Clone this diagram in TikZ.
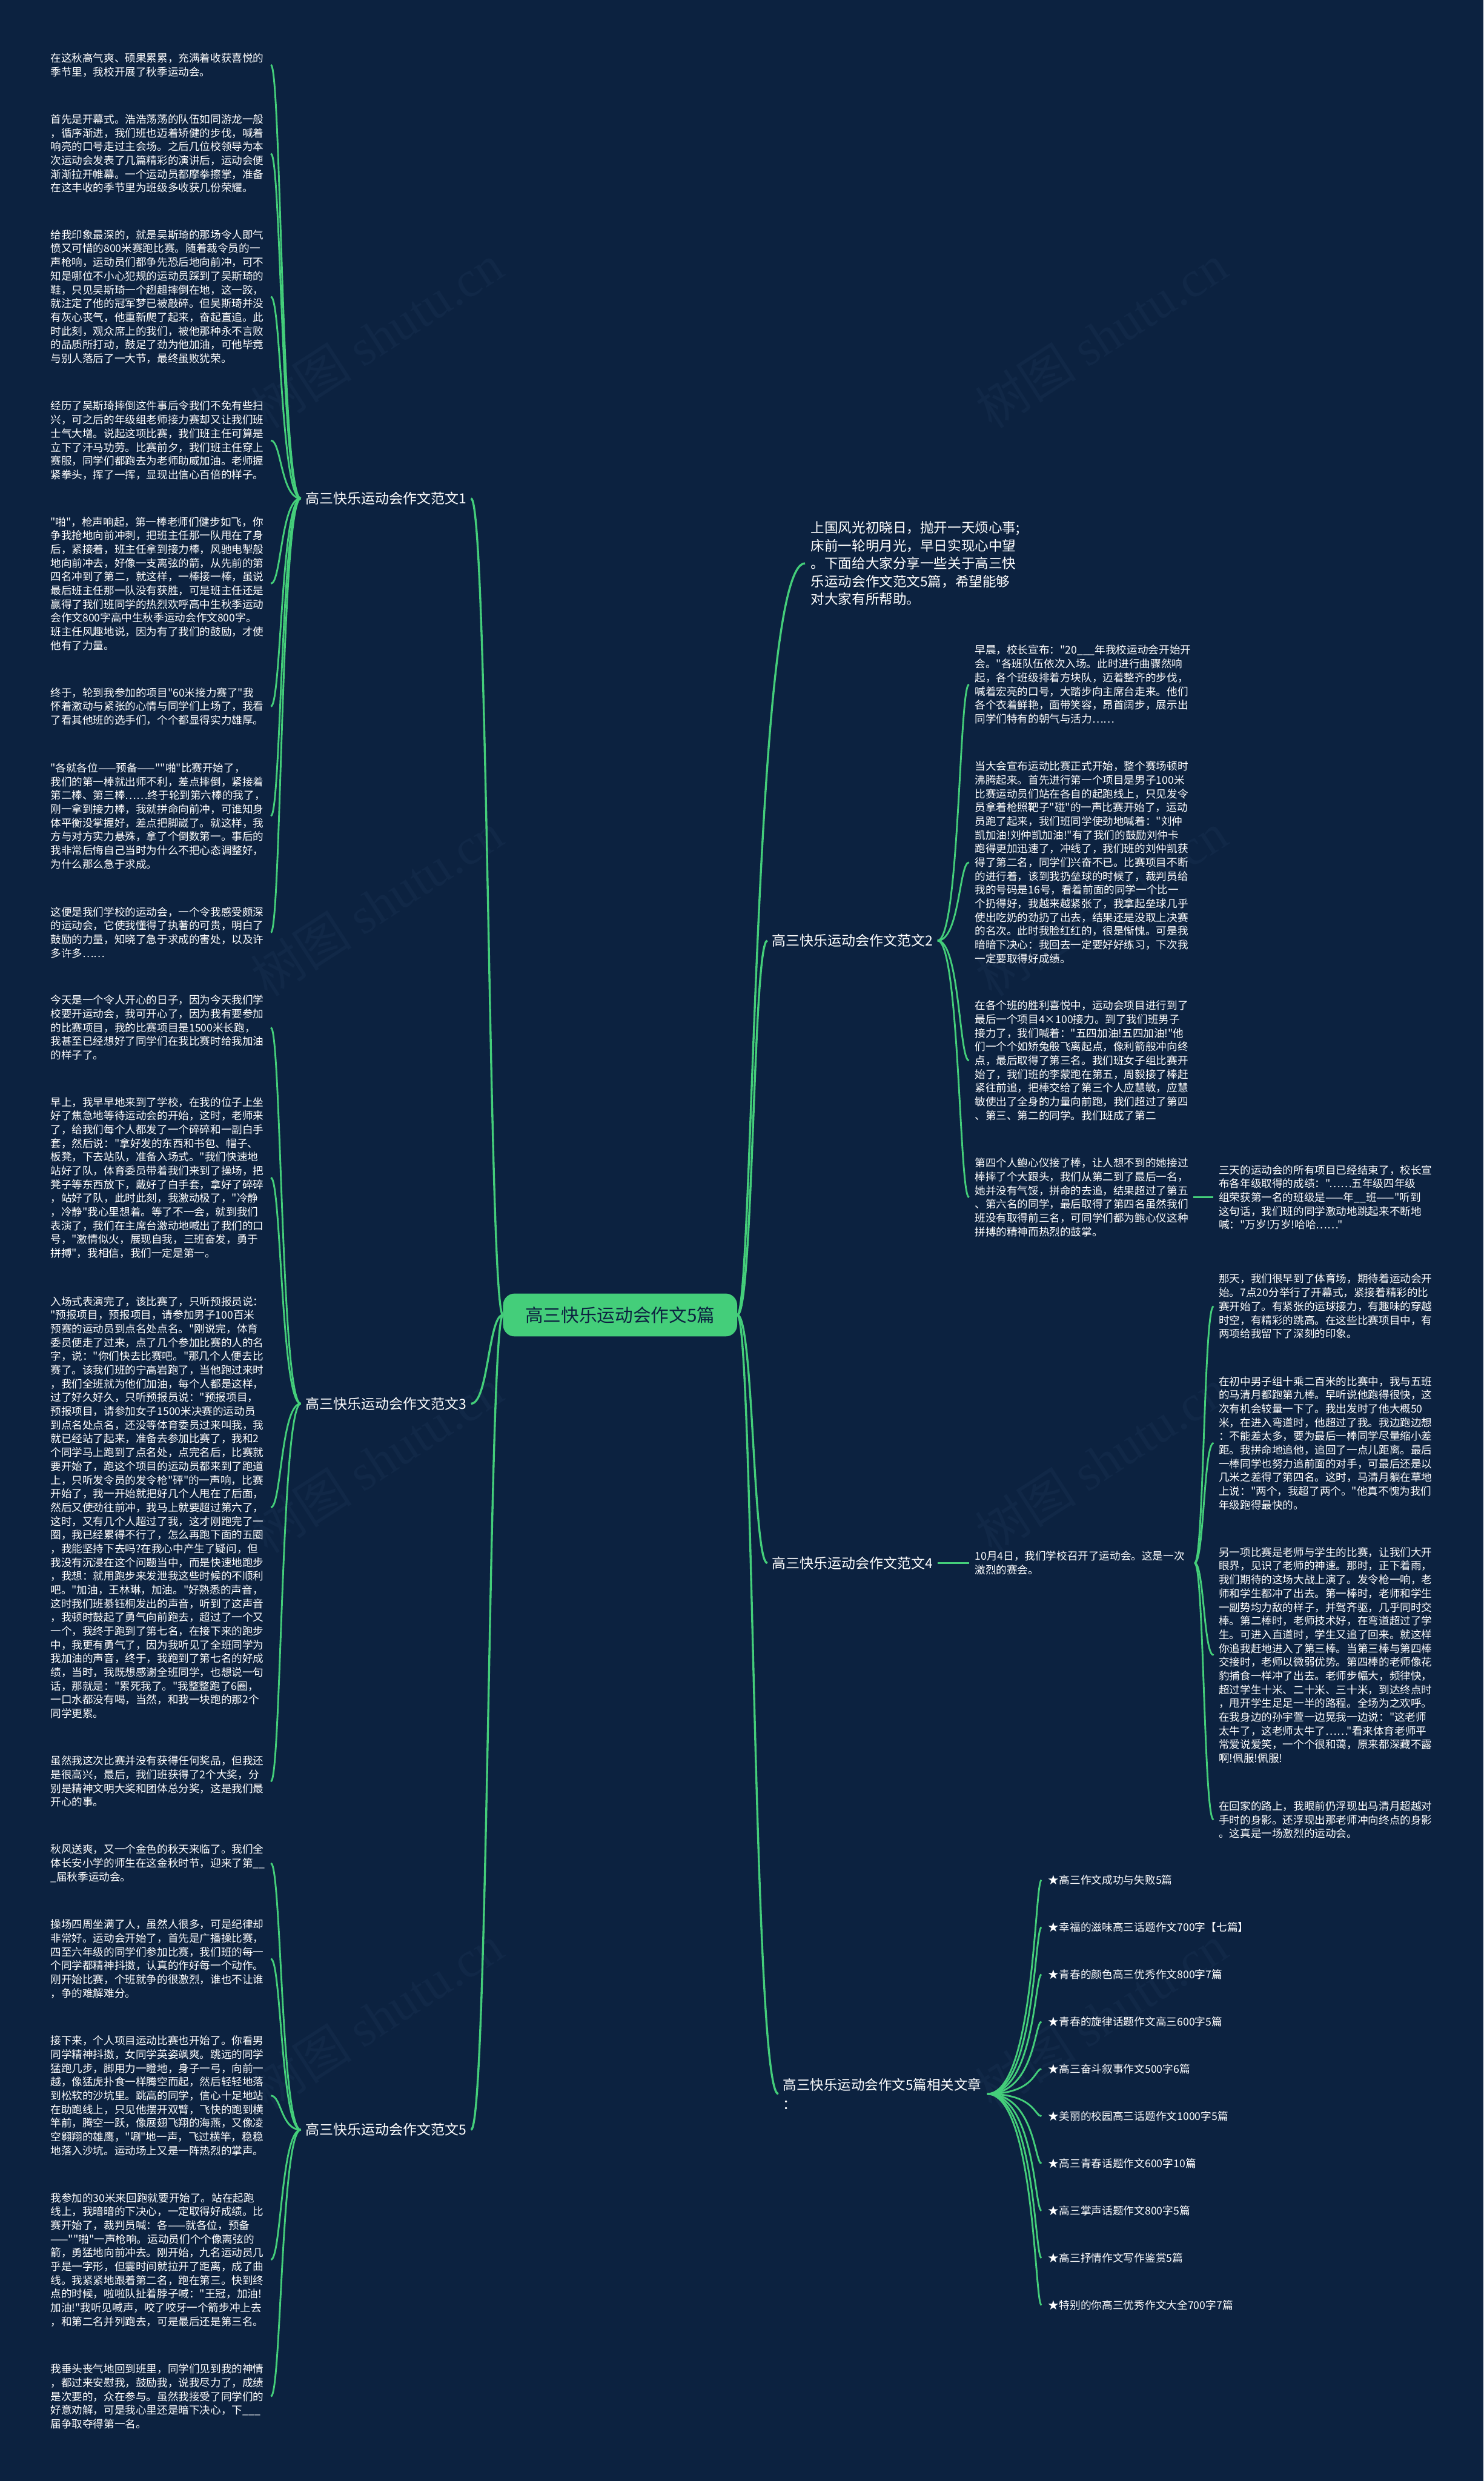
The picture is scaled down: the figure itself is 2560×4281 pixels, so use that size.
\documentclass[tikz,border=0pt]{standalone}
\usepackage{fontspec}
\setmainfont{Noto Sans CJK SC}[Ligatures=TeXOff]
\newfontfamily\wmfont{Liberation Serif}
\definecolor{bg}{RGB}{12,34,64}
\definecolor{lg}{RGB}{68,206,122}
\definecolor{wmc}{RGB}{17,40,71}
\begin{document}
\begin{tikzpicture}[x=1bp,y=-1bp,
  txt/.style={anchor=west,inner sep=0pt,text=white,align=left,text width=372bp,font=\fontsize{18.4bp}{23.7bp}\selectfont},
  sec/.style={anchor=west,inner sep=0pt,text=white,font=\fontsize{24bp}{30bp}\selectfont},
  relsec/.style={anchor=west,inner sep=0pt,text=white,align=left,font=\fontsize{23.5bp}{33bp}\selectfont},
  intro/.style={anchor=west,inner sep=0pt,text=white,align=left,font=\fontsize{23.6bp}{30.8bp}\selectfont},
  relitem/.style={anchor=west,inner sep=0pt,text=white,font=\fontsize{18.5bp}{23bp}\selectfont},
  ctr/.style={rounded corners=20bp,fill=lg,text=bg,minimum width=404bp,minimum height=74bp,inner sep=0pt,font=\fontsize{31bp}{36bp}\selectfont},
  lnk/.style={draw=lg,line width=3bp},
  mainlnk/.style={draw=lg,line width=3.5bp},
  wm/.style={text=wmc,rotate=33,inner sep=0pt,font=\fontsize{88bp}{100bp}\selectfont}
]
\useasboundingbox (0,0) rectangle (2560,4281);
\fill[bg] (0,0) rectangle (2560,4281);

% watermarks
\node[wm] (w1) at (650,580) {树图 {\wmfont shutu.cn}};
\node[wm] (w2) at (1900,580) {树图 {\wmfont shutu.cn}};
\node[wm] (w3) at (650,1560) {树图 {\wmfont shutu.cn}};
\node[wm] (w4) at (1900,1560) {树图 {\wmfont shutu.cn}};
\node[wm] (w5) at (650,2520) {树图 {\wmfont shutu.cn}};
\node[wm] (w6) at (1900,2520) {树图 {\wmfont shutu.cn}};
\node[wm] (w7) at (650,3480) {树图 {\wmfont shutu.cn}};
\node[wm] (w8) at (1900,3480) {树图 {\wmfont shutu.cn}};

% center
\node[ctr] (ctr) at (1070,2269) {高三快乐运动会作文5篇};

% section labels
\node[sec] (s1) at (527,860) {高三快乐运动会作文范文1};
\node[sec] (s3) at (527,2422) {高三快乐运动会作文范文3};
\node[sec] (s5) at (527,3675) {高三快乐运动会作文范文5};
\node[sec] (s2) at (1332,1623) {高三快乐运动会作文范文2};
\node[sec] (s4) at (1332,2697) {高三快乐运动会作文范文4};
\node[relsec] (rel) at (1351,3613) {高三快乐运动会作文5篇相关文章\\：};
\node[intro] (intro) at (1399,972) {上国风光初晓日，抛开一天烦心事;\\床前一轮明月光，早日实现心中望\\。下面给大家分享一些关于高三快\\乐运动会作文范文5篇，希望能够\\对大家有所帮助。};

% section 1 children
\node[txt] (b11) at (87,112) {在这秋高气爽、硕果累累，充满着收获喜悦的\\季节里，我校开展了秋季运动会。};
\node[txt] (b12) at (87,265) {首先是开幕式。浩浩荡荡的队伍如同游龙一般\\，循序渐进，我们班也迈着矫健的步伐，喊着\\响亮的口号走过主会场。之后几位校领导为本\\次运动会发表了几篇精彩的演讲后，运动会便\\渐渐拉开帷幕。一个运动员都摩拳擦掌，准备\\在这丰收的季节里为班级多收获几份荣耀。};
\node[txt] (b13) at (87,512) {给我印象最深的，就是吴斯琦的那场令人即气\\愤又可惜的800米赛跑比赛。随着裁令员的一\\声枪响，运动员们都争先恐后地向前冲，可不\\知是哪位不小心犯规的运动员踩到了吴斯琦的\\鞋，只见吴斯琦一个趔趄摔倒在地，这一跤，\\就注定了他的冠军梦已被敲碎。但吴斯琦并没\\有灰心丧气，他重新爬了起来，奋起直追。此\\时此刻，观众席上的我们，被他那种永不言败\\的品质所打动，鼓足了劲为他加油，可他毕竟\\与别人落后了一大节，最终虽败犹荣。};
\node[txt] (b14) at (87,760) {经历了吴斯琦摔倒这件事后令我们不免有些扫\\兴，可之后的年级组老师接力赛却又让我们班\\士气大增。说起这项比赛，我们班主任可算是\\立下了汗马功劳。比赛前夕，我们班主任穿上\\赛服，同学们都跑去为老师助威加油。老师握\\紧拳头，挥了一挥，显现出信心百倍的样子。};
\node[txt] (b15) at (87,1007) {"啪"，枪声响起，第一棒老师们健步如飞，你\\争我抢地向前冲刺，把班主任那一队甩在了身\\后，紧接着，班主任拿到接力棒，风驰电掣般\\地向前冲去，好像一支离弦的箭，从先前的第\\四名冲到了第二，就这样，一棒接一棒，虽说\\最后班主任那一队没有获胜，可是班主任还是\\赢得了我们班同学的热烈欢呼高中生秋季运动\\会作文800字高中生秋季运动会作文800字。\\班主任风趣地说，因为有了我们的鼓励，才使\\他有了力量。};
\node[txt] (b16) at (87,1219) {终于，轮到我参加的项目"60米接力赛了"我\\怀着激动与紧张的心情与同学们上场了，我看\\了看其他班的选手们，个个都显得实力雄厚。};
\node[txt] (b17) at (87,1408) {"各就各位——预备——""啪"比赛开始了，\\我们的第一棒就出师不利，差点摔倒，紧接着\\第二棒、第三棒……终于轮到第六棒的我了，\\刚一拿到接力棒，我就拼命向前冲，可谁知身\\体平衡没掌握好，差点把脚崴了。就这样，我\\方与对方实力悬殊，拿了个倒数第一。事后的\\我非常后悔自己当时为什么不把心态调整好，\\为什么那么急于求成。};
\node[txt] (b18) at (87,1609) {这便是我们学校的运动会，一个令我感受颇深\\的运动会，它使我懂得了执著的可贵，明白了\\鼓励的力量，知晓了急于求成的害处，以及许\\多许多……};

% section 3 children
\node[txt] (b31) at (87,1773) {今天是一个令人开心的日子，因为今天我们学\\校要开运动会，我可开心了，因为我有要参加\\的比赛项目，我的比赛项目是1500米长跑，\\我甚至已经想好了同学们在我比赛时给我加油\\的样子了。};
\node[txt] (b32) at (87,2032) {早上，我早早地来到了学校，在我的位子上坐\\好了焦急地等待运动会的开始，这时，老师来\\了，给我们每个人都发了一个碎碎和一副白手\\套，然后说："拿好发的东西和书包、帽子、\\板凳，下去站队，准备入场式。"我们快速地\\站好了队，体育委员带着我们来到了操场，把\\凳子等东西放下，戴好了白手套，拿好了碎碎\\，站好了队，此时此刻，我激动极了，"冷静\\，冷静"我心里想着。等了不一会，就到我们\\表演了，我们在主席台激动地喊出了我们的口\\号，"激情似火，展现自我，三班奋发，勇于\\拼搏"，我相信，我们一定是第一。};
\node[txt] (b33) at (87,2601) {入场式表演完了，该比赛了，只听预报员说：\\"预报项目，预报项目，请参加男子100百米\\预赛的运动员到点名处点名。"刚说完，体育\\委员便走了过来，点了几个参加比赛的人的名\\字，说："你们快去比赛吧。"那几个人便去比\\赛了。该我们班的宁高岩跑了，当他跑过来时\\，我们全班就为他们加油，每个人都是这样，\\过了好久好久，只听预报员说："预报项目，\\预报项目，请参加女子1500米决赛的运动员\\到点名处点名，还没等体育委员过来叫我，我\\就已经站了起来，准备去参加比赛了，我和2\\个同学马上跑到了点名处，点完名后，比赛就\\要开始了，跑这个项目的运动员都来到了跑道\\上，只听发令员的发令枪"砰"的一声响，比赛\\开始了，我一开始就把好几个人甩在了后面，\\然后又使劲往前冲，我马上就要超过第六了，\\这时，又有几个人超过了我，这才刚跑完了一\\圈，我已经累得不行了，怎么再跑下面的五圈\\，我能坚持下去吗?在我心中产生了疑问，但\\我没有沉浸在这个问题当中，而是快速地跑步\\，我想：就用跑步来发泄我这些时候的不顺利\\吧。"加油，王林琳，加油。"好熟悉的声音，\\这时我们班綦钰桐发出的声音，听到了这声音\\，我顿时鼓起了勇气向前跑去，超过了一个又\\一个，我终于跑到了第七名，在接下来的跑步\\中，我更有勇气了，因为我听见了全班同学为\\我加油的声音，终于，我跑到了第七名的好成\\绩，当时，我既想感谢全班同学，也想说一句\\话，那就是："累死我了。"我整整跑了6圈，\\一口水都没有喝，当然，和我一块跑的那2个\\同学更累。};
\node[txt] (b34) at (87,3074) {虽然我这次比赛并没有获得任何奖品，但我还\\是很高兴，最后，我们班获得了2个大奖，分\\别是精神文明大奖和团体总分奖，这是我们最\\开心的事。};

% section 5 children
\node[txt] (b51) at (87,3215) {秋风送爽，又一个金色的秋天来临了。我们全\\体长安小学的师生在这金秋时节，迎来了第\_\_\\\_届秋季运动会。};
\node[txt] (b52) at (87,3380) {操场四周坐满了人，虽然人很多，可是纪律却\\非常好。运动会开始了，首先是广播操比赛，\\四至六年级的同学们参加比赛，我们班的每一\\个同学都精神抖擞，认真的作好每一个动作。\\刚开始比赛，个班就争的很激烈，谁也不让谁\\，争的难解难分。};
\node[txt] (b53) at (87,3616) {接下来，个人项目运动比赛也开始了。你看男\\同学精神抖擞，女同学英姿飒爽。跳远的同学\\猛跑几步，脚用力一瞪地，身子一弓，向前一\\越，像猛虎扑食一样腾空而起，然后轻轻地落\\到松软的沙坑里。跳高的同学，信心十足地站\\在助跑线上，只见他摆开双臂，飞快的跑到横\\竿前，腾空一跃，像展翅飞翔的海燕，又像凌\\空翱翔的雄鹰，"唰"地一声，飞过横竿，稳稳\\地落入沙坑。运动场上又是一阵热烈的掌声。};
\node[txt] (b54) at (87,3899) {我参加的30米来回跑就要开始了。站在起跑\\线上，我暗暗的下决心，一定取得好成绩。比\\赛开始了，裁判员喊：各——就各位，预备\\——""啪"一声枪响。运动员们个个像离弦的\\箭，勇猛地向前冲去。刚开始，九名运动员几\\乎是一字形，但霎时间就拉开了距离，成了曲\\线。我紧紧地跟着第二名，跑在第三。快到终\\点的时候，啦啦队扯着脖子喊："王冠，加油!\\加油!"我听见喊声，咬了咬牙一个箭步冲上去\\，和第二名并列跑去，可是最后还是第三名。};
\node[txt] (b55) at (87,4135) {我垂头丧气地回到班里，同学们见到我的神情\\，都过来安慰我，鼓励我，说我尽力了，成绩\\是次要的，众在参与。虽然我接受了同学们的\\好意劝解，可是我心里还是暗下决心，下\_\_\_\\届争取夺得第一名。};

% section 2 children
\node[txt] (b21) at (1682,1181) {早晨，校长宣布："20\_\_\_年我校运动会开始开\\会。"各班队伍依次入场。此时进行曲骤然响\\起，各个班级排着方块队，迈着整齐的步伐，\\喊着宏亮的口号，大踏步向主席台走来。他们\\各个衣着鲜艳，面带笑容，昂首阔步，展示出\\同学们特有的朝气与活力……};
\node[txt] (b22) at (1682,1488) {当大会宣布运动比赛正式开始，整个赛场顿时\\沸腾起来。首先进行第一个项目是男子100米\\比赛运动员们站在各自的起跑线上，只见发令\\员拿着枪照靶子"碰"的一声比赛开始了，运动\\员跑了起来，我们班同学使劲地喊着："刘仲\\凯加油!刘仲凯加油!"有了我们的鼓励刘仲卡\\跑得更加迅速了，冲线了，我们班的刘仲凯获\\得了第二名，同学们兴奋不已。比赛项目不断\\的进行着，该到我扔垒球的时候了，裁判员给\\我的号码是16号，看着前面的同学一个比一\\个扔得好，我越来越紧张了，我拿起垒球几乎\\使出吃奶的劲扔了出去，结果还是没取上决赛\\的名次。此时我脸红红的，很是惭愧。可是我\\暗暗下决心：我回去一定要好好练习，下次我\\一定要取得好成绩。};
\node[txt] (b23) at (1682,1830) {在各个班的胜利喜悦中，运动会项目进行到了\\最后一个项目4×100接力。到了我们班男子\\接力了，我们喊着："五四加油!五四加油!"他\\们一个个如矫兔般飞离起点，像利箭般冲向终\\点，最后取得了第三名。我们班女子组比赛开\\始了，我们班的李蒙跑在第五，周毅接了棒赶\\紧往前追，把棒交给了第三个人应慧敏，应慧\\敏使出了全身的力量向前跑，我们超过了第四\\、第三、第二的同学。我们班成了第二};
\node[txt] (b24) at (1682,2066) {第四个人鲍心仪接了棒，让人想不到的她接过\\棒摔了个大跟头，我们从第二到了最后一名，\\她并没有气馁，拼命的去追，结果超过了第五\\、第六名的同学，最后取得了第四名虽然我们\\班没有取得前三名，可同学们都为鲍心仪这种\\拼搏的精神而热烈的鼓掌。};
\node[txt] (b25) at (2103,2066) {三天的运动会的所有项目已经结束了，校长宣\\布各年级取得的成绩："……五年级四年级\\组荣获第一名的班级是——年\_\_班——"听到\\这句话，我们班的同学激动地跳起来不断地\\喊："万岁!万岁!哈哈……"};

% section 4
\node[txt] (d4) at (1682,2697) {10月4日，我们学校召开了运动会。这是一次\\激烈的赛会。};
\node[txt] (b41) at (2103,2254) {那天，我们很早到了体育场，期待着运动会开\\始。7点20分举行了开幕式，紧接着精彩的比\\赛开始了。有紧张的运球接力，有趣味的穿越\\时空，有精彩的跳高。在这些比赛项目中，有\\两项给我留下了深刻的印象。};
\node[txt] (b42) at (2103,2490) {在初中男子组十乘二百米的比赛中，我与五班\\的马清月都跑第九棒。早听说他跑得很快，这\\次有机会较量一下了。我出发时了他大概50\\米，在进入弯道时，他超过了我。我边跑边想\\：不能差太多，要为最后一棒同学尽量缩小差\\距。我拼命地追他，追回了一点儿距离。最后\\一棒同学也努力追前面的对手，可最后还是以\\几米之差得了第四名。这时，马清月躺在草地\\上说："两个，我超了两个。"他真不愧为我们\\年级跑得最快的。};
\node[txt] (b43) at (2103,2856) {另一项比赛是老师与学生的比赛，让我们大开\\眼界，见识了老师的神速。那时，正下着雨，\\我们期待的这场大战上演了。发令枪一响，老\\师和学生都冲了出去。第一棒时，老师和学生\\一副势均力敌的样子，并驾齐驱，几乎同时交\\棒。第二棒时，老师技术好，在弯道超过了学\\生。可进入直道时，学生又追了回来。就这样\\你追我赶地进入了第三棒。当第三棒与第四棒\\交接时，老师以微弱优势。第四棒的老师像花\\豹捕食一样冲了出去。老师步幅大，频律快，\\超过学生十米、二十米、三十米，到达终点时\\，甩开学生足足一半的路程。全场为之欢呼。\\在我身边的孙宇萱一边晃我一边说："这老师\\太牛了，这老师太牛了……"看来体育老师平\\常爱说爱笑，一个个很和蔼，原来都深藏不露\\啊!佩服!佩服!};
\node[txt] (b44) at (2103,3140) {在回家的路上，我眼前仍浮现出马清月超越对\\手时的身影。还浮现出那老师冲向终点的身影\\。这真是一场激烈的运动会。};

% related articles
\node[relitem] (r1) at (1808,3244) {★\hspace{1bp}高三作文成功与失败5篇};
\node[relitem] (r2) at (1808,3325.5) {★\hspace{1bp}幸福的滋味高三话题作文700字【七篇】};
\node[relitem] (r3) at (1808,3407) {★\hspace{1bp}青春的颜色高三优秀作文800字7篇};
\node[relitem] (r4) at (1808,3488.5) {★\hspace{1bp}青春的旋律话题作文高三600字5篇};
\node[relitem] (r5) at (1808,3570) {★\hspace{1bp}高三奋斗叙事作文500字6篇};
\node[relitem] (r6) at (1808,3651.5) {★\hspace{1bp}美丽的校园高三话题作文1000字5篇};
\node[relitem] (r7) at (1808,3733) {★\hspace{1bp}高三青春话题作文600字10篇};
\node[relitem] (r8) at (1808,3814.5) {★\hspace{1bp}高三掌声话题作文800字5篇};
\node[relitem] (r9) at (1808,3896) {★\hspace{1bp}高三抒情作文写作鉴赏5篇};
\node[relitem] (r10) at (1808,3977.5) {★\hspace{1bp}特别的你高三优秀作文大全700字7篇};

% center connectors
\draw[mainlnk] (ctr.west) .. controls +(-25,0) and +(30,0) .. ([xshift=8bp]s1.east);
\draw[mainlnk] (ctr.west) .. controls +(-25,0) and +(30,0) .. ([xshift=8bp]s3.east);
\draw[mainlnk] (ctr.west) .. controls +(-25,0) and +(30,0) .. ([xshift=8bp]s5.east);
\draw[mainlnk] (ctr.east) .. controls +(28,0) and +(-90,0) .. ([xshift=-10bp]intro.west);
\draw[mainlnk] (ctr.east) .. controls +(28,0) and +(-25,0) .. ([xshift=-8bp]s2.west);
\draw[mainlnk] (ctr.east) .. controls +(28,0) and +(-25,0) .. ([xshift=-8bp]s4.west);
\draw[mainlnk] (ctr.east) .. controls +(28,0) and +(-44,0) .. ([xshift=-8bp]rel.west);

% child connectors
\foreach \b in {b11,b12,b13,b14,b15,b16,b17,b18}
  \draw[lnk] ([xshift=-8bp]s1.west) .. controls +(-34,0) and +(18,0) .. ([xshift=8bp]\b.east);
\foreach \b in {b31,b32,b33,b34}
  \draw[lnk] ([xshift=-8bp]s3.west) .. controls +(-34,0) and +(18,0) .. ([xshift=8bp]\b.east);
\foreach \b in {b51,b52,b53,b54,b55}
  \draw[lnk] ([xshift=-8bp]s5.west) .. controls +(-34,0) and +(18,0) .. ([xshift=8bp]\b.east);
\foreach \b in {b21,b22,b23,b24}
  \draw[lnk] ([xshift=8bp]s2.east) .. controls +(38,0) and +(-17,0) .. ([xshift=-10bp]\b.west);
\draw[lnk] ([xshift=5bp]b24.east) -- ([xshift=-10bp]b25.west);
\draw[lnk] ([xshift=8bp]s4.east) -- ([xshift=-10bp]d4.west);
\foreach \b in {b41,b42,b43,b44}
  \draw[lnk] ([xshift=7bp]d4.east) .. controls +(16,0) and +(-17,0) .. ([xshift=-9bp]\b.west);
\foreach \b in {r1,r2,r3,r4,r5,r6,r7,r8,r9,r10}
  \draw[lnk] ([xshift=10bp]rel.east) .. controls +(82,0) and +(-12,0) .. ([xshift=-11bp]\b.west);
\end{tikzpicture}
\end{document}
